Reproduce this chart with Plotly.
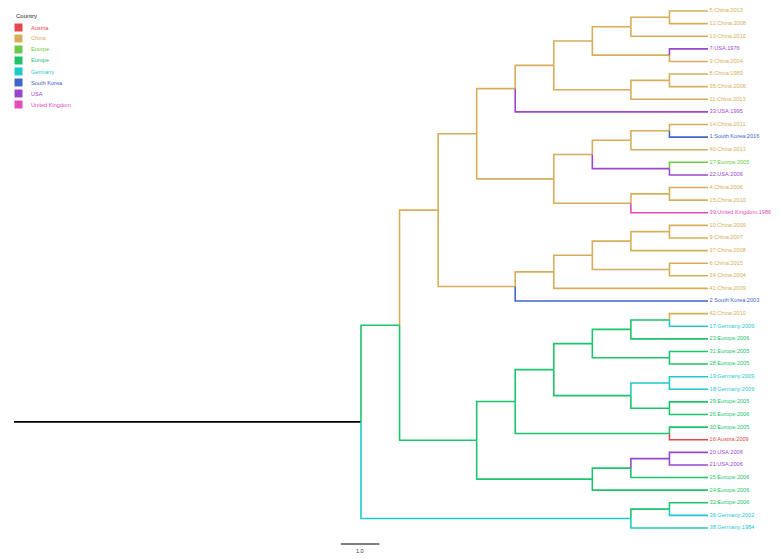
import plotly.graph_objects as go

# ---------------- data ----------------
leaf_labels = [
    "5:China:2013", "12:China:2008", "13:China:2010", "7:USA:1976", "3:China:2004",
    "8:China:1989", "35:China:2006", "11:China:2013", "33:USA:1995", "14:China:2011",
    "1:South Korea:2016", "40:China:2013", "27:Euorpe:2005", "22:USA:2006", "4:China:2006",
    "15:China:2010", "39:United Kingdom:1986", "10:China:2009", "9:China:2007", "37:China:2008",
    "6:China:2015", "34:China:2004", "41:China:2009", "2:South Korea:2003", "42:China:2010",
    "17:Germany:2009", "23:Europe:2006", "31:Europe:2005", "28:Europe:2005", "19:Germany:2009",
    "18:Germany:2009", "29:Europe:2005", "26:Europe:2006", "30:Europe:2005", "16:Austria:2009",
    "20:USA:2006", "21:USA:2006", "25:Europe:2006", "24:Europe:2006", "32:Europe:2006",
    "36:Germany:2002", "38:Germany:1984",
]

countries = ["Austria", "China", "Euorpe", "Europe", "Germany", "South Korea", "USA", "United Kingdom"]
country_colors = ["#E2474D", "#D6AE5A", "#6CCB46", "#1EC46C", "#1ECACB", "#3F66C8", "#9A46D0", "#E24DB7"]

# tree topology (Newick, internal nodes labelled with their inferred country)
clade_a = "(((((5,12)China,13)China,(7,3)China)China,((8,35)China,11)China)China,33)China"
clade_b = "((((14,1)China,40)China,(27,22)USA)China,((4,15)China,39)China)China"
clade_c = "((((10,9)China,37)China,(6,34)China)China,41)China"
clade_china = "((" + clade_a + "," + clade_b + ")China,(" + clade_c + ",2)China)China"
clade_eu1 = "((((42,17)Europe,23)Europe,(31,28)Europe)Europe,((19,18)Germany,(29,26)Europe)Europe)Europe"
clade_eu = "((" + clade_eu1 + ",(30,16)Europe)Europe,(((20,21)USA,25)Europe,24)Europe)Europe"
clade_de = "((32,36)Europe,38)Germany"
newick = "((" + clade_china + "," + clade_eu + ")Europe," + clade_de + ");"

root_edge = 9.0
scale_bar_length = 1.0

# ---------------- parse & layout ----------------
leaf_group = {lab.split(":")[0]: lab.split(":")[1] for lab in leaf_labels}
leaf_text = {lab.split(":")[0]: lab for lab in leaf_labels}
color_of = dict(zip(countries, country_colors))


def parse(s):
    pos = 0

    def read_label():
        nonlocal pos
        start = pos
        while pos < len(s) and s[pos] not in ",();":
            pos += 1
        return s[start:pos]

    def node():
        nonlocal pos
        if s[pos] == "(":
            pos += 1
            kids = [node()]
            while s[pos] == ",":
                pos += 1
                kids.append(node())
            pos += 1  # ')'
            return {"children": kids, "label": read_label()}
        lab = read_label()
        return {"children": [], "label": lab}

    return node()


tree = parse(newick)
leaves = []


def collect(n):
    if not n["children"]:
        leaves.append(n)
    for c in n["children"]:
        collect(c)


collect(tree)
n_leaves = len(leaves)
for i, lf in enumerate(leaves):
    lf["y"] = n_leaves - i


def height(n):
    if not n["children"]:
        n["h"] = 0
    else:
        n["h"] = 1 + max(height(c) for c in n["children"])
    return n["h"]


height(tree)
tip_x = root_edge + tree["h"]


def place(n):
    n["x"] = tip_x - n["h"]
    if n["children"]:
        for c in n["children"]:
            place(c)
        ys = [c["y"] for c in n["children"]]
        n["y"] = (min(ys) + max(ys)) / 2


place(tree)


def group(n):
    return leaf_group[n["label"]] if not n["children"] else n["label"]


segs = {c: ([], []) for c in countries}


def edges(n):
    for c in n["children"]:
        xs, ys = segs[group(c)]
        xs += [n["x"], n["x"], c["x"], None]
        ys += [n["y"], c["y"], c["y"], None]
        edges(c)


edges(tree)

FONT = "Liberation Sans, Arial, sans-serif"
fig = go.Figure()
# root edge
fig.add_trace(go.Scatter(x=[tree["x"] - root_edge, tree["x"]], y=[tree["y"], tree["y"]],
                         mode="lines", line=dict(color="black", width=1.6),
                         hoverinfo="skip", showlegend=False))
for c in countries:
    xs, ys = segs[c]
    if xs:
        fig.add_trace(go.Scatter(x=xs, y=ys, mode="lines",
                                 line=dict(color=color_of[c], width=1.6),
                                 hoverinfo="skip", showlegend=False))

# tip labels
fig.add_trace(go.Scatter(
    x=[lf["x"] + 0.04 for lf in leaves], y=[lf["y"] for lf in leaves],
    text=[leaf_text[lf["label"]] for lf in leaves], mode="text",
    textposition="middle right",
    textfont=dict(size=5.6, color=[color_of[group(lf)] for lf in leaves], family=FONT),
    hoverinfo="skip", showlegend=False))

W, H = 781, 559
px_per_x = (708 - 14) / tip_x
px_per_y = (528 - 11) / (n_leaves - 1)
xr = [-14 / px_per_x, (W - 14) / px_per_x]
yr = [1 - (H - 528) / px_per_y, n_leaves + 11 / px_per_y]

# scale bar
sb_x0 = 8.48
sb_y = 1 - (544 - 528) / px_per_y
fig.add_shape(type="line", x0=sb_x0, x1=sb_x0 + scale_bar_length, y0=sb_y, y1=sb_y,
              line=dict(color="black", width=1))
fig.add_annotation(x=sb_x0 + scale_bar_length / 2, y=sb_y, text=f"{scale_bar_length:.1f}",
                   showarrow=False, yanchor="top", yshift=-2,
                   font=dict(size=5.5, color="#333", family=FONT))

# legend (manual)
fig.add_annotation(x=14 / W, y=1 - 16 / H, xref="paper", yref="paper", text="Country",
                   showarrow=False, xanchor="left", yanchor="middle",
                   font=dict(size=6, color="#222", family=FONT))
for i, (c, col) in enumerate(zip(countries, country_colors)):
    cy = 27.5 + 11 * i
    fig.add_shape(type="rect", xref="paper", yref="paper",
                  x0=14.5 / W, x1=22.5 / W, y0=1 - (cy - 4) / H, y1=1 - (cy + 4) / H,
                  fillcolor=col, line=dict(width=0))
    fig.add_annotation(x=29 / W, y=1 - cy / H, xref="paper", yref="paper", text=c,
                       showarrow=False, xanchor="left", yanchor="middle",
                       font=dict(size=5.6, color=col, family=FONT))

fig.update_layout(
    width=W, height=H, margin=dict(l=0, r=0, t=0, b=0),
    paper_bgcolor="white", plot_bgcolor="white",
    xaxis=dict(range=xr, visible=False, fixedrange=True),
    yaxis=dict(range=yr, visible=False, fixedrange=True),
    showlegend=False,
)
fig.write_html("out.html", config={"displayModeBar": False},
               post_script="document.body.style.margin='0';document.body.style.overflow='hidden';")
